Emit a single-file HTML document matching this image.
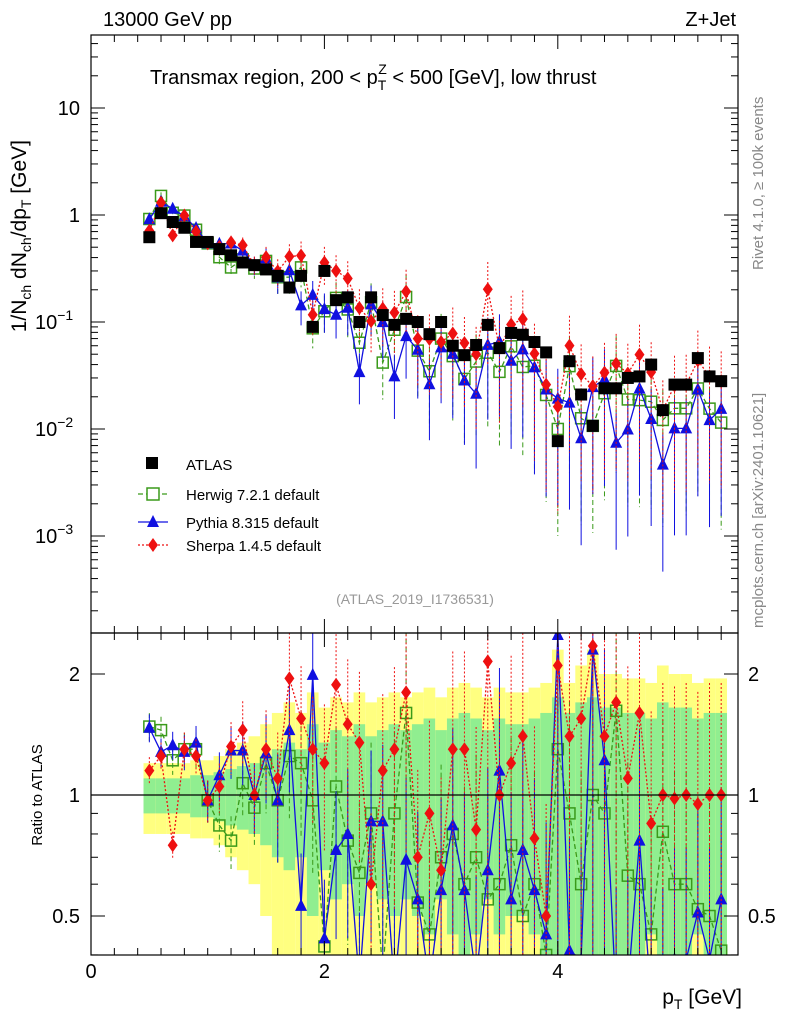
<!DOCTYPE html>
<html><head><meta charset="utf-8"><style>
html,body{margin:0;padding:0;background:#fff;width:786px;height:1024px;overflow:hidden;}
svg{display:block;font-family:"Liberation Sans",sans-serif;}
</style></head><body>
<svg id="c" width="786" height="1024" viewBox="0 0 786 1024" xmlns="http://www.w3.org/2000/svg">
<defs>
<clipPath id="cm"><rect x="91" y="35" width="647" height="598"/></clipPath>
<clipPath id="cr"><rect x="91" y="633" width="647" height="322"/></clipPath>
</defs>
<g id="bands" clip-path="url(#cr)"></g>
<g id="marks"></g>
<rect x="91" y="35" width="647" height="598" fill="none" stroke="#000" stroke-width="1.2"/>
<rect x="91" y="633" width="647" height="322" fill="none" stroke="#000" stroke-width="1.2"/>
<g id="axes"></g>
<text x="103" y="26" font-size="20">13000 GeV pp</text>
<text x="736" y="26" font-size="20" text-anchor="end">Z+Jet</text>
<text x="150" y="84" font-size="20">Transmax region, 200 &lt; p<tspan font-size="14" dy="6">T</tspan><tspan font-size="14" dx="-8" dy="-16">Z</tspan><tspan dy="10"> &lt; 500 [GeV], low thrust</tspan></text>
<text x="415" y="604" font-size="14" fill="#999" text-anchor="middle">(ATLAS_2019_I1736531)</text>
<text transform="translate(763,270) rotate(-90)" font-size="15" fill="#888">Rivet 4.1.0, ≥ 100k events</text>
<text transform="translate(763,628) rotate(-90)" font-size="15" fill="#888">mcplots.cern.ch [arXiv:2401.10621]</text>
<text transform="translate(26,140) rotate(-90)" font-size="21" text-anchor="end">1/N<tspan font-size="14" dy="5">ch</tspan><tspan dy="-5"> dN</tspan><tspan font-size="14" dy="5">ch</tspan><tspan dy="-5">/dp</tspan><tspan font-size="14" dy="5">T</tspan><tspan dy="-5"> [GeV]</tspan></text>
<text transform="translate(42,795) rotate(-90)" font-size="15" text-anchor="middle">Ratio to ATLAS</text>
<text x="742" y="1004" font-size="21" text-anchor="end">p<tspan font-size="14" dy="5">T</tspan><tspan dy="-5"> [GeV]</tspan></text>
<g id="legend">
<rect x="146" y="457" width="12" height="12" fill="#000"/>
<text x="186" y="470" font-size="15">ATLAS</text>
<line x1="138" y1="494" x2="168" y2="494" stroke="#3a9a1a" stroke-dasharray="5,3" stroke-width="1.3"/>
<rect x="147" y="488" width="12" height="12" fill="#fff" stroke="#3a9a1a" stroke-width="1.5"/>
<text x="186" y="500" font-size="15">Herwig 7.2.1 default</text>
<line x1="138" y1="522" x2="168" y2="522" stroke="#1010e0" stroke-width="1.3"/>
<polygon points="153,515 159,527 147,527" fill="#1010e0"/>
<text x="186" y="528" font-size="15">Pythia 8.315 default</text>
<line x1="138" y1="545" x2="168" y2="545" stroke="#ee1010" stroke-dasharray="2,2" stroke-width="1.3"/>
<polygon points="153,538 158,545 153,552 148,545" fill="#ee1010"/>
<text x="186" y="551" font-size="15">Sherpa 1.4.5 default</text>
</g>
</svg>
<script>
const binCenters=[0.5,0.6,0.7,0.8,0.9,1.0,1.1,1.2,1.3,1.4,1.5,1.6,1.7,1.8,1.9,2.0,2.1,2.2,2.3,2.4,2.5,2.6,2.7,2.8,2.9,3.0,3.1,3.2,3.3,3.4,3.5,3.6,3.7,3.8,3.9,4.0,4.1,4.2,4.3,4.4,4.5,4.6,4.7,4.8,4.9,5.0,5.1,5.2,5.3,5.4];
const atlasValues=[0.62,1.04,0.86,0.76,0.56,0.56,0.48,0.42,0.36,0.34,0.31,0.27,0.21,0.27,0.09,0.30,0.16,0.17,0.10,0.17,0.116,0.094,0.107,0.10,0.077,0.10,0.06,0.049,0.061,0.094,0.057,0.079,0.076,0.065,0.052,0.0077,0.043,0.021,0.0107,0.024,0.024,0.030,0.031,0.040,0.015,0.026,0.026,0.046,0.031,0.028];
const statErr=[0.1,0.1,0.1,0.1,0.12,0.12,0.14,0.16,0.18,0.2,0.25,0.3,0.35,0.3,0.5,0.35,0.45,0.4,0.5,0.4,0.45,0.5,0.45,0.5,0.55,0.45,0.55,0.6,0.55,0.45,0.55,0.5,0.5,0.55,0.6,0.75,0.6,0.7,0.75,0.65,0.65,0.6,0.6,0.55,0.7,0.65,0.65,0.55,0.6,0.6];
const totErr=[0.2,0.2,0.2,0.2,0.22,0.22,0.25,0.3,0.35,0.4,0.5,0.6,0.7,0.6,0.8,0.65,0.75,0.7,0.8,0.7,0.75,0.8,0.75,0.8,0.85,0.75,0.85,0.9,0.85,0.75,0.85,0.8,0.8,0.85,0.9,1.3,0.9,1.1,1.3,1.0,1.0,0.95,0.95,0.9,1.1,1.0,1.0,0.9,0.95,0.95];
const herwigRatio=[1.48,1.45,1.22,1.3,1.3,0.97,0.84,0.77,1.07,0.93,1.2,0.97,1.25,1.2,0.97,0.42,1.05,0.77,0.64,0.9,0.36,0.9,1.6,0.54,0.45,0.7,0.8,0.6,0.7,0.55,0.6,0.75,0.5,0.6,0.4,1.3,0.9,0.6,1.0,0.9,1.62,0.63,0.6,0.45,0.81,0.6,0.6,0.52,0.5,0.41];
const pythiaRatio=[1.47,1.28,1.33,1.28,1.35,0.97,1.12,1.29,1.29,1.0,1.27,0.97,1.45,0.53,1.99,0.44,0.73,0.8,0.34,0.86,0.86,0.33,0.69,0.55,0.34,0.58,0.84,0.58,0.35,0.65,1.15,0.55,0.73,0.58,0.45,2.5,0.41,0.39,2.3,1.22,0.31,0.33,0.77,0.31,0.31,0.39,0.39,0.51,0.39,0.55];
const sherpaRatio=[1.15,1.25,0.75,1.3,1.25,0.97,1.05,1.32,1.45,1.0,1.3,1.1,1.95,1.55,1.3,1.2,1.88,1.5,1.35,0.6,1.15,1.3,1.8,0.7,0.9,0.65,1.3,1.3,0.82,2.15,1.0,1.2,1.4,0.78,0.5,2.1,1.4,1.55,2.35,1.4,1.7,1.1,1.6,0.85,1.0,0.98,1.0,0.95,1.0,1.0];
const mcErr=[0.08,0.08,0.08,0.1,0.1,0.12,0.14,0.15,0.18,0.2,0.25,0.3,0.3,0.35,0.35,0.4,0.4,0.45,0.5,0.5,0.55,0.6,0.6,0.65,0.7,0.7,0.75,0.75,0.8,0.8,0.8,0.85,0.85,0.9,0.9,0.9,0.9,0.9,0.9,0.9,0.9,0.9,0.9,0.9,0.9,0.9,0.9,0.9,0.9,0.9];
const xTicks=[0,2,4];
const yTicks=[10,1,0.1,0.01,0.001];
const yTickLabels=["10","1","10","10","10"];
const yTickExp=["","","−1","−2","−3"];
const rTicks=[0.5,1,2];

const NS="http://www.w3.org/2000/svg";
const X=v=>91+v*116.7;
const YM=v=>215-107*Math.log10(v);
const YR=r=>795-121*Math.log2(r);
const svg=document.getElementById('c');
const bands=document.getElementById('bands');
const marks=document.getElementById('marks');
const axes=document.getElementById('axes');
function mk(tag,attrs,parent){const e=document.createElementNS(NS,tag);for(const k in attrs)e.setAttribute(k,attrs[k]);parent.appendChild(e);return e;}
const gm=mk('g',{'clip-path':'url(#cm)'},marks);
const gr=mk('g',{'clip-path':'url(#cr)'},marks);

binCenters.forEach((c,i)=>{
  const x0=X(c-0.05),w=X(c+0.05)-x0;
  const y1=mk('rect',{x:x0,y:YR(1+totErr[i]),width:w,height:YR(Math.max(1-totErr[i],0.05))-YR(1+totErr[i]),fill:'#ffff80'},bands);
  
  
  const g1=mk('rect',{x:x0,y:YR(1+statErr[i]),width:w,height:YR(Math.max(1-statErr[i],0.05))-YR(1+statErr[i]),fill:'#90ee90'},bands);
  
  
});
const one=mk('line',{x1:91,x2:738,y1:YR(1),y2:YR(1),stroke:'#000','stroke-width':1.2},marks);



function marker(type,x,y,col,parent){
  let e;
  if(type==='sq'){e=mk('rect',{x:x-5.5,y:y-5.5,width:11,height:11,fill:'#fff','fill-opacity':0,stroke:col,'stroke-width':1.5},parent);}
  else if(type==='tri'){e=mk('polygon',{points:`${x},${y-7} ${x+6},${y+5} ${x-6},${y+5}`,fill:col},parent);}
  else if(type==='dia'){e=mk('polygon',{points:`${x},${y-7} ${x+5},${y} ${x},${y+7} ${x-5},${y}`,fill:col},parent);}
  else {e=mk('rect',{x:x-6,y:y-6,width:12,height:12,fill:col},parent);}
  return e;
}
const series=[
 {name:'herwig',ratio:herwigRatio,col:'#3a9a1a',dash:'5,3',m:'sq'},
 {name:'pythia',ratio:pythiaRatio,col:'#1010e0',dash:'',m:'tri'},
 {name:'sherpa',ratio:sherpaRatio,col:'#ee1010',dash:'2,2',m:'dia'}];
series.forEach(s=>{
  const vals=s.ratio.map((r,i)=>r*atlasValues[i]);
  const pm=vals.map((v,i)=>`${X(binCenters[i])},${YM(v)}`).join(' ');
  const lm=mk('polyline',{points:pm,fill:'none',stroke:s.col,'stroke-width':1.3,'stroke-dasharray':s.dash},gm);
  
  
  const pr=s.ratio.map((r,i)=>`${X(binCenters[i])},${YR(r)}`).join(' ');
  const lr=mk('polyline',{points:pr,fill:'none',stroke:s.col,'stroke-width':1.3,'stroke-dasharray':s.dash},gr);
  
  
  vals.forEach((v,i)=>{
    const x=X(binCenters[i]),e=mcErr[i];
    const lo=Math.max(1-e,0.001);
    mk('line',{x1:x,x2:x,y1:YM(v*(1+e)),y2:YM(v*lo),stroke:s.col,'stroke-width':1,'stroke-dasharray':s.dash},gm);
    mk('line',{x1:x,x2:x,y1:YR(s.ratio[i]*(1+e)),y2:YR(s.ratio[i]*lo),stroke:s.col,'stroke-width':1,'stroke-dasharray':s.dash},gr);
    const a=marker(s.m,x,YM(v),s.col,gm);
    
    
    const b=marker(s.m,x,YR(s.ratio[i]),s.col,gr);
    
    
  });
});
atlasValues.forEach((v,i)=>{
  const a=marker('atlas',X(binCenters[i]),YM(v),'#000',gm);
  
  
});

for(let v=0;v<=5.6;v+=0.2){
  const x=X(v);if(x>738)break;
  const major=Math.abs(v-Math.round(v/2)*2)<1e-6;
  const L=major?14:7;
  mk('line',{x1:x,x2:x,y1:955,y2:955-L,stroke:'#000'},axes);
  mk('line',{x1:x,x2:x,y1:633,y2:633-L,stroke:'#000'},axes);
  mk('line',{x1:x,x2:x,y1:633,y2:633+L,stroke:'#000'},axes);
  mk('line',{x1:x,x2:x,y1:35,y2:35+L,stroke:'#000'},axes);
}
xTicks.forEach(v=>{
  const t=mk('text',{x:X(v),y:978,'font-size':20,'text-anchor':'middle'},axes);
  t.textContent=String(v);
  
  
});
for(let d=-4;d<=1;d++){
  for(let m=1;m<10;m++){
    const v=m*Math.pow(10,d);const y=YM(v);
    if(y<35||y>633)continue;
    const L=m===1?14:7;
    mk('line',{x1:91,x2:91+L,y1:y,y2:y,stroke:'#000'},axes);
    mk('line',{x1:738,x2:738-L,y1:y,y2:y,stroke:'#000'},axes);
  }
}
yTicks.forEach((v,i)=>{
  const hasExp=!!yTickExp[i];
  const t=mk('text',{x:hasExp?35:80,y:YM(v)+7,'font-size':20,'text-anchor':hasExp?'start':'end'},axes);
  t.textContent=yTickLabels[i];
  
  
  if(hasExp){const s=mk('tspan',{'font-size':14,dy:-9},t);s.textContent=yTickExp[i];}
});
[0.4,0.5,0.6,0.7,0.8,0.9,1,2].forEach(r=>{
  const y=YR(r);const major=(r===0.5||r===1||r===2);const L=major?14:7;
  mk('line',{x1:91,x2:91+L,y1:y,y2:y,stroke:'#000'},axes);
  mk('line',{x1:738,x2:738-L,y1:y,y2:y,stroke:'#000'},axes);
});
rTicks.forEach(r=>{
  const t=mk('text',{x:80,y:YR(r)+7,'font-size':20,'text-anchor':'end'},axes);
  t.textContent=String(r);
  
  
  const t2=mk('text',{x:748,y:YR(r)+7,'font-size':20},axes);
  t2.textContent=String(r);
  
  
});
</script>
</body></html>
